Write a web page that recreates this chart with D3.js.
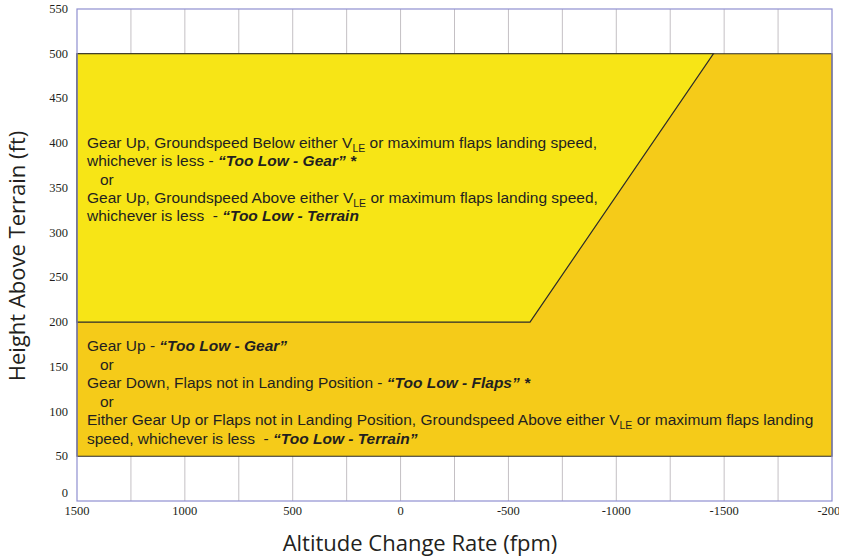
<!DOCTYPE html>
<html>
<head>
<meta charset="utf-8">
<script src="https://cdn.jsdelivr.net/npm/d3@7"></script>
<style>
	body { margin: 0; background: #fff; }
	.tick-label { font-family: 'Liberation Serif', 'Times New Roman', serif; font-size: 12.5px; fill: #231f20; }
	.title { font-family: 'Open Sans', 'Noto Sans', sans-serif; font-size: 22px; fill: #231f20; }
	.note { font-family: 'Liberation Sans', Arial, sans-serif; font-size: 15.5px; fill: #231f20; }
</style>
</head>
<body>
<script>

// axis values
var xDomain = [1500, -2000];
var yDomain = [0, 550];
var xTicks = [1500, 1000, 500, 0, -500, -1000, -1500, -2000];
var xGrid = [1250, 1000, 750, 500, 250, 0, -250, -500, -750, -1000, -1250, -1500, -1750];
var yTicks = [0, 50, 100, 150, 200, 250, 300, 350, 400, 450, 500, 550];

// alert zones [rate fpm, height ft]
var lowerZone = [[1500, 500], [-2000, 500], [-2000, 50], [1500, 50]];
var upperZone = [[1500, 500], [-1450, 500], [-600, 200], [1500, 200]];

// annotation lines, each a list of [text, style]
var upperNotes = [
	[[ 'Gear Up, Groundspeed Below either V' ], [ 'LE', 'sub' ], [ ' or maximum flaps landing speed,' ]],
	[[ 'whichever is less - ' ], [ '\u201cToo Low - Gear\u201d *', 'bi' ]],
	[[ '   or' ]],
	[[ 'Gear Up, Groundspeed Above either V' ], [ 'LE', 'sub' ], [ ' or maximum flaps landing speed,' ]],
	[[ 'whichever is less  - ' ], [ '\u201cToo Low - Terrain', 'bi' ]]
];
var lowerNotes = [
	[[ 'Gear Up - ' ], [ '\u201cToo Low - Gear\u201d', 'bi' ]],
	[[ '   or' ]],
	[[ 'Gear Down, Flaps not in Landing Position - ' ], [ '\u201cToo Low - Flaps\u201d *', 'bi' ]],
	[[ '   or' ]],
	[[ 'Either Gear Up or Flaps not in Landing Position, Groundspeed Above either V' ], [ 'LE', 'sub' ], [ ' or maximum flaps landing' ]],
	[[ 'speed, whichever is less  - ' ], [ '\u201cToo Low - Terrain\u201d', 'bi' ]]
];

var width = 845, height = 559;
var margin = { top: 9, right: 13, bottom: 58, left: 77 };

var svg = d3.select('body').append('svg')
	.attr('width', width)
	.attr('height', height);

svg.append('defs').append('clipPath')
	.attr('id', 'clip')
	.append('rect')
	.attr('x', 0)
	.attr('y', 0)
	.attr('width', 839)
	.attr('height', height);

var g = svg.append('g').attr('clip-path', 'url(#clip)');

var xScale = d3.scaleLinear().domain(xDomain).range([margin.left, width - margin.right]);
var yScale = d3.scaleLinear().domain(yDomain).range([height - margin.bottom, margin.top]);

// vertical grid
g.selectAll('.grid')
	.data(xGrid)
	.enter().append('line')
	.attr('class', 'grid')
	.attr('x1', function(d) { return xScale(d); })
	.attr('x2', function(d) { return xScale(d); })
	.attr('y1', yScale(0))
	.attr('y2', yScale(550))
	.attr('stroke', '#c4c0c4')
	.attr('stroke-width', 1);

var line = d3.line()
	.x(function(d) { return xScale(d[0]); })
	.y(function(d) { return yScale(d[1]); });

g.append('path')
	.attr('d', line(lowerZone) + 'Z')
	.style('fill', '#f5cb19')
	.attr('stroke', '#2b2b2b')
	.attr('stroke-width', 1.2);

g.append('path')
	.attr('d', line(upperZone) + 'Z')
	.style('fill', '#f7e516')
	.attr('stroke', '#2b2b2b')
	.attr('stroke-width', 1.2);

// plot frame
g.append('rect')
	.attr('x', xScale(1500))
	.attr('y', yScale(550))
	.attr('width', xScale(-2000) - xScale(1500))
	.attr('height', yScale(0) - yScale(550))
	.style('fill', 'none')
	.attr('stroke', '#8f8fd0')
	.attr('stroke-width', 1.2);

// y ticks (the 0 label sits a little above the axis)
g.selectAll('.ytick')
	.data(yTicks)
	.enter().append('text')
	.attr('class', 'tick-label')
	.attr('x', margin.left - 9)
	.attr('y', function(d) { return yScale(d) + (d == 0 ? -4 : 4); })
	.attr('text-anchor', 'end')
	.text(function(d) { return d; });

// x ticks
g.selectAll('.xtick')
	.data(xTicks)
	.enter().append('text')
	.attr('class', 'tick-label')
	.attr('x', function(d) { return xScale(d); })
	.attr('y', yScale(0) + 14)
	.attr('text-anchor', 'middle')
	.text(function(d) { return d; });

// axis titles
g.append('text')
	.attr('class', 'title')
	.attr('transform', 'translate(' + 25 + ',' + 256 + ') rotate(-90)')
	.attr('text-anchor', 'middle')
	.text('Height Above Terrain (ft)');

g.append('text')
	.attr('class', 'title')
	.attr('x', 420)
	.attr('y', 551)
	.attr('text-anchor', 'middle')
	.text('Altitude Change Rate (fpm)');

function drawNotes(notes, y0, step) {
	notes.forEach(function(parts, i) {
		var t = g.append('text')
			.attr('class', 'note')
			.attr('x', 87)
			.attr('y', y0 + i * step)
			.attr('xml:space', 'preserve');
		var down = false;
		parts.forEach(function(p) {
			var s = t.append('tspan').text(p[0]);
			if (p[1] == 'bi') {
				s.style('font-weight', 'bold').style('font-style', 'italic');
			}
			if (p[1] == 'sub') {
				s.style('font-size', '10.5px').attr('dy', 4);
				down = true;
			} else if (down) {
				s.attr('dy', -4);
				down = false;
			}
		});
	});
}

drawNotes(upperNotes, 148, 18.3);
drawNotes(lowerNotes, 351, 18.6);

</script>
</body>
</html>
